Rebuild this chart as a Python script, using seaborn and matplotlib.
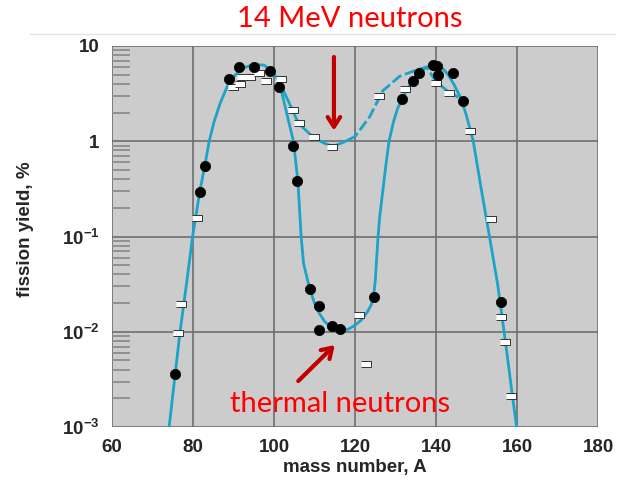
import numpy as np
import pandas as pd
import matplotlib
matplotlib.use("Agg")
import matplotlib.pyplot as plt
from matplotlib.ticker import LogLocator, NullFormatter
import seaborn as sns

# ---- curves ----
thermal_curve_A = [74.1, 75.6, 76.8, 78.4, 79.9, 81.7, 83.0, 84.0, 85.2, 86.7, 88.5, 90.5,
                   92.5, 95.0, 97.5, 99.5, 101.3, 103.1, 104.8, 105.9, 106.7, 107.3, 108.2,
                   109.0, 110.0, 111.2, 112.5, 114.0, 115.5, 117.0, 118.5, 120.0, 121.5,
                   123.0, 124.0, 124.6, 125.0, 125.3, 125.7, 126.1, 126.9, 127.6, 128.4,
                   129.5, 130.5, 131.7, 133.0, 134.3, 136.0, 138.0, 139.7, 141.5, 143.0,
                   144.5, 146.0, 147.3, 148.3, 149.2, 151.2, 153.2, 155.2, 156.4, 157.4,
                   158.6, 159.9]
thermal_curve_y = [0.001, 0.0036, 0.01, 0.032, 0.1, 0.3, 0.58, 1.0, 1.6, 2.5, 3.8, 5.0,
                   5.9, 6.4, 6.3, 5.5, 4.2, 2.0, 1.0, 0.38, 0.1, 0.052, 0.036,
                   0.027, 0.020, 0.0156, 0.0128, 0.0113, 0.0106, 0.0103, 0.0107, 0.0117, 0.0132,
                   0.016, 0.0191, 0.024, 0.034, 0.055, 0.1, 0.161, 0.31, 0.55, 1.0,
                   1.6, 2.2, 2.8, 3.6, 4.3, 5.3, 6.1, 6.4, 5.9, 5.0,
                   3.9, 2.9, 2.0, 1.4, 1.0, 0.31, 0.1, 0.032, 0.0135, 0.0065,
                   0.0026, 0.001]

fast_solid_A = [101.3, 103.8, 106.0, 109.5, 112.0, 114.5, 117.0, 118.5]
fast_solid_y = [4.2, 2.5, 1.55, 1.12, 0.97, 0.88, 0.97, 1.04]
fast_dash_A = [118.5, 120.0, 123.6, 126.9, 131.0, 135.2, 137.6, 140.1, 143.1, 145.5]
fast_dash_y = [1.04, 1.12, 1.8, 3.4, 4.8, 5.6, 6.0, 4.2, 3.3, 2.9]

# ---- measured points ----
thermal_A = [75.6, 81.7, 83.0, 89.0, 91.3, 95.1, 98.9, 101.3, 104.6, 105.7, 108.9, 111.1,
             111.2, 114.4, 116.4, 124.6, 131.7, 134.3, 135.8, 139.3, 140.3, 140.5, 144.2,
             146.7, 156.0]
thermal_y = [0.0036, 0.295, 0.55, 4.5, 5.98, 5.98, 5.5, 3.68, 0.89, 0.385, 0.0279, 0.0186,
             0.0104, 0.0115, 0.0107, 0.023, 2.76, 4.32, 5.25, 6.3, 6.2, 4.97, 5.25,
             2.65, 0.0205]

fast_A = [76.4, 77.0, 80.9, 89.8, 91.6, 92.2, 94.1, 96.4, 98.0, 101.8, 104.6, 106.1,
          109.9, 114.4, 121.1, 122.8, 125.9, 132.3, 140.1, 143.1, 148.4, 153.7, 156.1,
          157.0, 158.6]
fast_y = [0.0096, 0.0196, 0.155, 3.67, 4.0, 4.76, 4.78, 5.17, 4.3, 4.5, 2.13, 1.54,
          1.1, 0.88, 0.0149, 0.00455, 2.99, 3.51, 4.06, 3.23, 1.29, 0.152, 0.0142,
          0.0078, 0.0021]

ytick_vals = [1e-3, 1e-2, 1e-1, 1, 10]
ytick_labels = [r"$\mathbf{10^{-3}}$", r"$\mathbf{10^{-2}}$", r"$\mathbf{10^{-1}}$", "1", "10"]
xtick_vals = [60, 80, 100, 120, 140, 160, 180]

sns.set_style("white")
plt.rcParams["font.family"] = ["Liberation Sans", "DejaVu Sans"]
plt.rcParams["mathtext.fontset"] = "custom"
plt.rcParams["mathtext.bf"] = "Liberation Sans:bold"
plt.rcParams["mathtext.rm"] = "Liberation Sans"

cyan = "#1ba3c8"
darkred = "#c00000"

fig = plt.figure(figsize=(6.18, 4.91), dpi=100)
ax = fig.add_axes([112 / 618, 64 / 491, 486 / 618, 381 / 491])
ax.set_facecolor("#cccccc")

ax.set_yscale("log")

# curves
sns.lineplot(x=thermal_curve_A, y=thermal_curve_y, sort=False, estimator=None,
             color=cyan, lw=2.0, ax=ax, zorder=2)
sns.lineplot(x=fast_solid_A, y=fast_solid_y, sort=False, estimator=None,
             color=cyan, lw=2.0, ax=ax, zorder=2)
sns.lineplot(x=fast_dash_A, y=fast_dash_y, sort=False, estimator=None,
             color=cyan, lw=2.0, ax=ax, zorder=2)
ax.lines[-1].set_dashes((4, 1.3))

# data points
rect = [(-1, -0.65), (1, -0.65), (1, 0.65), (-1, 0.65)]
sns.scatterplot(x=fast_A, y=fast_y, marker=rect, s=45, color="white",
                edgecolor="#333333", linewidth=0.7, ax=ax, zorder=3)
sns.scatterplot(x=thermal_A, y=thermal_y, marker="o", s=55, color="black",
                edgecolor="black", linewidth=0.5, ax=ax, zorder=4)

ax.set_xlim(60, 180)
ax.set_ylim(1e-3, 10)

ax.set_xticks(xtick_vals)
ax.set_xticklabels([str(v) for v in xtick_vals], fontsize=13.5, fontweight="bold")
ax.set_yticks(ytick_vals)
ax.set_yticklabels(ytick_labels, fontsize=13.5, fontweight="bold")
ax.yaxis.set_minor_locator(LogLocator(base=10, subs=np.arange(2, 10)))
ax.yaxis.set_minor_formatter(NullFormatter())
ax.tick_params(axis="both", which="major", length=0, pad=9)
ax.tick_params(axis="y", which="minor", direction="in", length=13, width=1.3,
               color="#8c8c8c", left=True, right=False)

ax.grid(True, which="major", color="#6e6e6e", lw=1.2)
ax.set_axisbelow(True)
for s in ax.spines.values():
    s.set_visible(False)

ax.set_xlabel("mass number, A", fontsize=13.5, fontweight="bold")
ax.xaxis.set_label_coords(0.5, -0.085)
ax.set_ylabel("fission yield, %", fontsize=13.5, fontweight="bold")
ax.yaxis.set_label_coords(-0.16, 0.52)

# annotations
ax.annotate("", xy=(114.8, 1.21), xytext=(114.8, 8.2),
            arrowprops=dict(arrowstyle="->,head_length=0.7,head_width=0.45",
                            color=darkred, lw=3))
ax.annotate("", xy=(115.5, 0.0076), xytext=(105.5, 0.0029),
            arrowprops=dict(arrowstyle="->,head_length=0.7,head_width=0.45",
                            color=darkred, lw=3))
ax.text(116.2, 0.00144, "thermal neutrons", color="red", fontsize=21,
        family=["Lato", "DejaVu Sans"], ha="center", va="baseline")

fig.text(350 / 618, 1 - 19 / 491, "14 MeV neutrons", color="red", fontsize=21,
         family=["Lato", "DejaVu Sans"], ha="center", va="center")
fig.add_artist(plt.Line2D([30 / 618, 615 / 618], [1 - 34 / 491, 1 - 34 / 491],
                          color="#e3e3e3", lw=1.0))

fig.savefig("out.png", dpi=100, facecolor="white")
